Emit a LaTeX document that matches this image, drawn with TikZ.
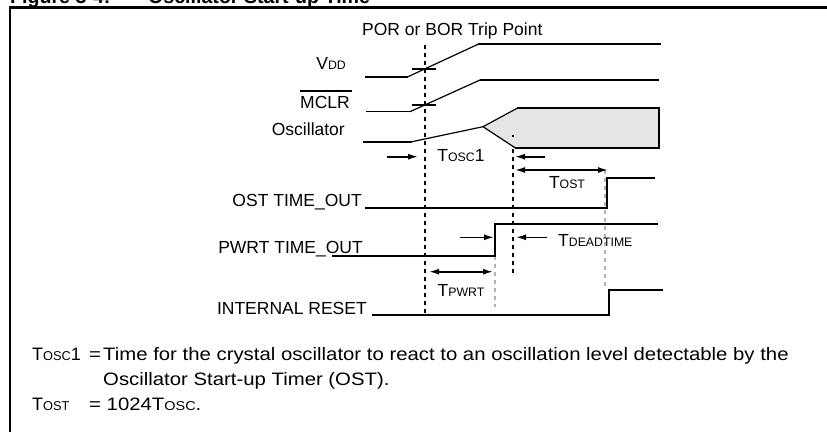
\documentclass[tikz,border=0pt]{standalone}
\usepackage{fontspec}
\setmainfont{Liberation Sans}
\newfontfamily\notefont[FakeStretch=1.13]{Liberation Sans}
\usetikzlibrary{arrows.meta}
\newcommand\labsc[1]{{\fontsize{12.3}{12.3}\selectfont #1}}
\newcommand\notesc[1]{{\fontsize{12.8}{12.8}\selectfont #1}}
\tikzset{
  lab/.style={inner sep=0pt, font=\fontsize{17.5}{18}\selectfont},
  note/.style={inner sep=0pt, anchor=base west, font=\notefont\fontsize{18}{20}\selectfont},
  notelab/.style={inner sep=0pt, anchor=base west, font=\fontsize{18}{20}\selectfont},
  sig/.style={line width=2pt, line join=miter},
  ramp/.style={line width=1.2pt},
  trip/.style={line width=2pt, dash pattern=on 3.5pt off 4.5pt},
  gtrip/.style={line width=1.6pt, draw=black!30, dash pattern=on 4pt off 4pt},
  arr/.style={line width=1.6pt, -{Latex[length=10pt,width=6pt]}},
  darr/.style={line width=1.6pt, {Latex[length=10pt,width=6pt]}-{Latex[length=10pt,width=6pt]}},
}
\begin{document}
\begin{tikzpicture}[x=1pt,y=-1pt]
\useasboundingbox (0,0) rectangle (827,431);
% title (clipped at top, as in the reference)
\node[inner sep=0pt, anchor=base west, font=\bfseries\fontsize{19.6}{20}\selectfont] (figno) at (10,3.5) {Figure 3-4:};
\node[inner sep=0pt, anchor=base west, font=\bfseries\fontsize{19.6}{20}\selectfont] (figtitle) at (148,3.5) {Oscillator Start-up Time};
% frame
\draw[line width=2.5pt] (10,445) -- (10,7.5) -- (840,7.5);

% labels
\node[lab, anchor=base west] (por) at (362,35) {POR or BOR Trip Point};
\node[lab, anchor=base east] (vdd) at (346,69) {V\labsc{DD}};
\node[lab, anchor=base east] (mclr) at (350,108) {MCLR};
\draw[line width=1.6pt] ([yshift=4.8pt]mclr.north west) -- ([yshift=4.8pt,xshift=2pt]mclr.north east);
\node[lab, anchor=base east] (osc) at (345,135) {Oscillator};
\node[lab, anchor=base east] (ost) at (362,206.5) {OST TIME\_OUT};
\node[lab, anchor=base east] (pwrt) at (363,253.3) {PWRT TIME\_OUT};
\node[lab, anchor=base east] (ires) at (367,314) {INTERNAL RESET};

% trip point lines
\draw[trip] (425,45) -- (425,315);
\draw[trip] (513,133) -- (513,273);

% VDD
\draw[sig] (365,76.7) -- (408,76.7);
\draw[ramp] (408,76.7) -- (478,44.3);
\draw[sig] (478,44.3) -- (661,44.3);
\draw[line width=2pt] (412,69) -- (436,69);
% MCLR
\draw[line width=1.4pt] (366,111.7) -- (410,111.7);
\draw[ramp] (410,111.7) -- (480,80);
\draw[sig] (480,80) -- (659,80);
\draw[line width=2pt] (412,104.6) -- (436,104.6);
% Oscillator
\fill[black!10] (483,126.7) -- (517,108.3) -- (659,108.3) -- (659,147.7) -- (515,147.7) -- cycle;
\draw[sig] (363,141.7) -- (412,141.7);
\draw[ramp] (412,141.7) -- (483,126.7) -- (517,108.3);
\draw[ramp] (483,126.7) -- (515,147.7);
\draw[sig] (517,108.3) -- (659,108.3) -- (659,147.7) -- (515,147.7);
\draw[trip] (513,135) -- (513,137);

% gray guide lines
\draw[gtrip] (495,256) -- (495,307);
\draw[gtrip] (605,170) -- (605,290);

% OST TIME_OUT
\draw[sig] (365,207.7) -- (607,207.7) -- (607,178.3) -- (655,178.3);
% PWRT TIME_OUT
\draw[sig] (332,256) -- (495,256) -- (495,224.3) -- (658,224.3);
% INTERNAL RESET
\draw[sig] (372,315) -- (609,315) -- (609,290) -- (663,290);

% arrows
\coordinate (a1s) at (387,156.7); \coordinate (a1e) at (418,156.7);
\coordinate (a2s) at (545,156.7); \coordinate (a2e) at (515,156.7);
\coordinate (a3s) at (515,170);   \coordinate (a3e) at (608,170);
\coordinate (a4s) at (460,237.3); \coordinate (a4e) at (494,237.3);
\coordinate (a5s) at (547,237.3); \coordinate (a5e) at (516,237.3);
\coordinate (a6s) at (429,271.7); \coordinate (a6e) at (493,271.7);
\draw[arr] (a1s) -- (a1e);
\draw[arr] (a2s) -- (a2e);
\draw[darr] (a3s) -- (a3e);
\draw[arr] (a4s) -- (a4e);
\draw[arr] (a5s) -- (a5e);
\draw[darr] (a6s) -- (a6e);

\node[lab] (tosc1) at (461,156) {T\labsc{OSC}1};
\node[lab] (tost) at (567,183) {T\labsc{OST}};
\node[lab, anchor=west] (tdead) at (558,240) {T\labsc{DEADTIME}};
\node[lab] (tpwrt) at (461,290) {T\labsc{PWRT}};

% notes
\node[notelab] (n1a) at (32,360.7) {T\notesc{OSC}1};
\node[note] (n1b) at (89,360.7) {=};
\node[note] (n1c) at (103,360.7) {Time for the crystal oscillator to react to an oscillation level detectable by the};
\node[note] (n1d) at (103,385) {Oscillator Start-up Timer (OST).};
\node[notelab] (n2a) at (32,410) {T\notesc{OST}};
\node[note] (n2b) at (89,410) {= 1024T{\fontsize{12.8}{12.8}\selectfont OSC}.};
\end{tikzpicture}
\end{document}
